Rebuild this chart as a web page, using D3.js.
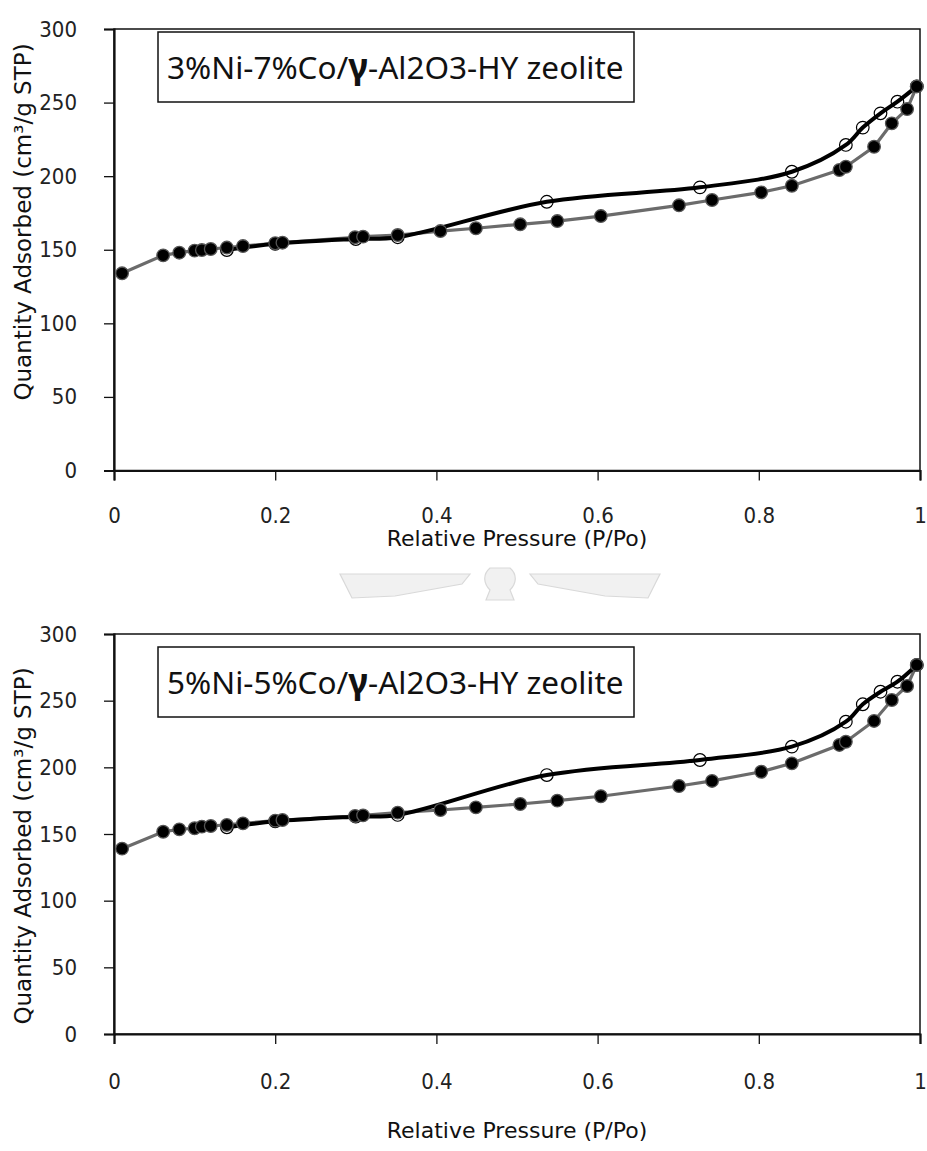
<!DOCTYPE html>
<html lang="en">
  <head>
    <meta charset="utf-8">
    <title>N2 isotherms</title>
    <style>
      body {
          margin: 0;
          background-color: white;
      }
      svg {
          display: block;
      }
      .tick text {
          font-family: "Liberation Sans Narrow", "DejaVu Sans Condensed", sans-serif;
          font-size: 22px;
          fill: #222;
      }
      .axisTitle {
          font-family: "DejaVu Sans", sans-serif;
          font-size: 22px;
          fill: #111;
      }
      .yTitle {
          font-family: "DejaVu Sans", sans-serif;
          font-size: 23px;
          fill: #111;
      }
      .boxTitle {
          font-family: "Noto Sans", "DejaVu Sans", sans-serif;
          font-size: 31.5px;
          fill: #111;
      }
    </style>
    <script src="https://d3js.org/d3.v7.min.js"></script>
  </head>
  <body>
    <div class="viz"></div>
    <script>

    // relative pressure of the adsorption branch (same in both samples)
    const adsP = [0.01, 0.061, 0.081, 0.1, 0.109, 0.12, 0.14, 0.16, 0.2, 0.209, 0.299, 0.309, 0.352, 0.405,
                  0.449, 0.504, 0.55, 0.604, 0.701, 0.742, 0.803, 0.841, 0.9, 0.908, 0.943, 0.965, 0.984, 0.996]
    // relative pressure of the desorption branch
    const desP = [0.996, 0.972, 0.951, 0.929, 0.908, 0.841, 0.727, 0.537, 0.352, 0.3, 0.2, 0.14]

    // 3%Ni-7%Co sample
    const ads1 = [134, 146.2, 148, 149.4, 149.8, 150.5, 151.5, 152.5, 154.4, 154.8, 158.5, 158.9, 160, 162.7,
                  164.6, 167.3, 169.5, 172.9, 180.2, 183.8, 189, 193.5, 204.2, 206.4, 220, 235.9, 245.6, 261]
    const des1 = [261, 250.6, 242.7, 233, 221.2, 203, 192.4, 182.6, 158.5, 157.3, 154, 149.8]

    // 5%Ni-5%Co sample
    const ads2 = [139, 151.7, 153.5, 154.3, 155.5, 156, 156.8, 158, 160, 160.5, 163.5, 164, 166, 168,
                  170, 172.5, 175, 178.3, 186, 189.8, 196.7, 203, 216.8, 219.2, 234.8, 250.5, 261, 276.8]
    const des2 = [276.8, 264.2, 256.7, 247.3, 234.2, 215.5, 205.5, 194.2, 164.3, 163, 159.5, 155]

    const xTicks = [0, 0.2, 0.4, 0.6, 0.8, 1]
    const yTicks = [0, 50, 100, 150, 200, 250, 300]
    const xTitle = "Relative Pressure (P/Po)"
    const yTitle = "Quantity Adsorbed (cm³/g STP)"

    const svg = d3.select(".viz")
      .append("svg")
      .attr("width", 927)
      .attr("height", 1151)

    // faint page watermark between the two charts
    const wm = svg.append("g")
      .attr("fill", "#f1f1f1")
      .attr("stroke", "#d9d9d9")
      .attr("stroke-width", 1.2)
    wm.append("path").attr("d", "M340,574 L470,574 L462,584 L395,596 L352,598 Z")
    wm.append("path").attr("d", "M660,574 L530,574 L538,584 L605,596 L648,598 Z")
    wm.append("path").attr("d", "M490,568 C482,575 484,584 490,590 L486,600 L514,600 L510,590 C516,584 518,575 510,568 Z")

    const chart = (opt) => {
      const x = d3.scaleLinear().domain([0, 1]).range([114, 920])
      const y = d3.scaleLinear().domain([0, 300]).range([opt.bottom, opt.top])
      const g = svg.append("g")

      // plot frame
      g.append("rect")
        .attr("x", x(0)).attr("y", y(300))
        .attr("width", x(1) - x(0)).attr("height", y(0) - y(300))
        .attr("fill", "white")
        .attr("stroke", "#111")
        .attr("stroke-width", 1.5)

      const yAxis = g.append("g")
        .attr("transform", `translate(${x(0)},0)`)
        .call(d3.axisLeft(y).tickValues(yTicks).tickFormat(d3.format("d")).tickSize(10).tickPadding(27))
      yAxis.select(".domain").attr("stroke", "#111").attr("stroke-width", 2.2)
      yAxis.selectAll(".tick line").attr("stroke", "#111").attr("stroke-width", 1.3)

      const xAxis = g.append("g")
        .attr("transform", `translate(0,${y(0)})`)
        .call(d3.axisBottom(x).tickValues(xTicks).tickFormat(d => d).tickSize(10).tickPadding(opt.tickPad))
      xAxis.select(".domain").attr("stroke", "#111").attr("stroke-width", 2.2)
      xAxis.selectAll(".tick line").attr("stroke", "#111").attr("stroke-width", 1.3)

      const ads = adsP.map((p, i) => ({p: p, q: opt.ads[i]}))
      const des = desP.map((p, i) => ({p: p, q: opt.des[i]}))

      g.append("path")
        .datum(ads)
        .attr("fill", "none")
        .attr("stroke", "#6b6b6b")
        .attr("stroke-width", 3.2)
        .attr("d", d3.line().x(d => x(d.p)).y(d => y(d.q)))

      g.append("path")
        .datum(des)
        .attr("fill", "none")
        .attr("stroke", "#000")
        .attr("stroke-width", 4)
        .attr("d", d3.line().curve(d3.curveCatmullRom.alpha(0.5)).x(d => x(d.p)).y(d => y(d.q)))

      g.selectAll(".open")
        .data(des)
        .join("circle")
        .attr("class", "open")
        .attr("cx", d => x(d.p))
        .attr("cy", d => y(d.q))
        .attr("r", 6.3)
        .attr("fill", "none")
        .attr("stroke", "#000")
        .attr("stroke-width", 1.2)

      g.selectAll(".filled")
        .data(ads)
        .join("circle")
        .attr("class", "filled")
        .attr("cx", d => x(d.p))
        .attr("cy", d => y(d.q))
        .attr("r", 6.3)
        .attr("fill", "#000")
        .attr("stroke", "#555")
        .attr("stroke-width", 1.3)

      // sample name box
      g.append("rect")
        .attr("x", 158).attr("y", opt.boxY)
        .attr("width", 476).attr("height", 70)
        .attr("fill", "white")
        .attr("stroke", "#111")
        .attr("stroke-width", 1.5)

      const t = g.append("text")
        .attr("class", "boxTitle")
        .attr("x", 167)
        .attr("y", opt.boxY + 47)
      t.append("tspan").text(opt.name[0])
      t.append("tspan").text("γ").style("font-weight", "bold").style("font-size", "35px")
      t.append("tspan").text(opt.name[1])

      g.append("text")
        .attr("class", "axisTitle")
        .attr("x", (x(0) + x(1)) / 2)
        .attr("y", opt.xTitleY)
        .attr("text-anchor", "middle")
        .text(xTitle)

      g.append("text")
        .attr("class", "yTitle")
        .attr("transform", `translate(31,${opt.yTitleC}) rotate(-90)`)
        .attr("text-anchor", "middle")
        .text(yTitle)
    }

    chart({top: 29, bottom: 470.5, tickPad: 27, boxY: 32, xTitleY: 546, yTitleC: 222,
           ads: ads1, des: des1, name: ["3%Ni-7%Co/", "-Al2O3-HY zeolite"]})
    chart({top: 634, bottom: 1034, tickPad: 29, boxY: 647, xTitleY: 1138, yTitleC: 846,
           ads: ads2, des: des2, name: ["5%Ni-5%Co/", "-Al2O3-HY zeolite"]})

    </script>
  </body>
</html>
